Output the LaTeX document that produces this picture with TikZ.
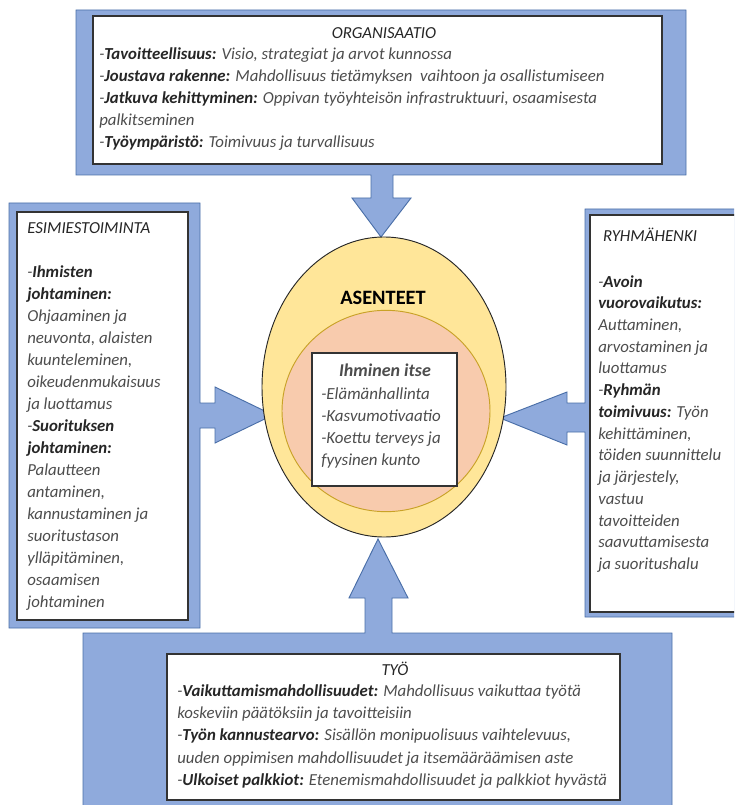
\documentclass[tikz,border=0pt]{standalone}
\usepackage{fontspec}
\setmainfont{Carlito}
\usepackage{tikz}
\usetikzlibrary{shapes.geometric, positioning, calc}

\definecolor{calloutblue}{HTML}{8FAADC}
\definecolor{calloutedge}{HTML}{4A6FA8}
\definecolor{asyellow}{HTML}{FFE699}
\definecolor{inpeach}{HTML}{F8CBAD}
\definecolor{ingold}{HTML}{C9A227}
\definecolor{txtgray}{HTML}{4D4D4D}
\definecolor{ttlgray}{HTML}{262626}

\begin{document}
\begin{tikzpicture}[
    x=0.75pt, y=-0.75pt,
    callout/.style={fill=calloutblue, draw=calloutedge, line width=0.7pt, line join=miter},
    txtbox/.style={draw=black!80, fill=white, line width=1.1pt, inner sep=0pt},
    body/.style={font=\fontsize{12.6}{16.5}\selectfont\itshape, text=txtgray, align=left, anchor=north west, inner sep=0pt},
    ttl/.style={font=\fontsize{12.6}{16.5}\selectfont\itshape, text=ttlgray, inner sep=0pt},
]
\clip (0,0) rectangle (734,805);

% callouts
\draw[callout] (76,10) -- (686,10) -- (686,175) -- (393,175) -- (393,198) -- (411,198)
    -- (381,237) -- (352,198) -- (371,198) -- (371,175) -- (76,175) -- cycle;
\draw[callout] (9,203) -- (200,203) -- (200,403) -- (215,403) -- (215,387) -- (273,415)
    -- (215,443) -- (215,428) -- (200,428) -- (200,628) -- (9,628) -- cycle;
\draw[callout] (585,209) -- (745,209) -- (745,617) -- (585,617) -- (585,432) -- (567,432)
    -- (567,445) -- (500,418) -- (567,392) -- (567,403) -- (585,403) -- cycle;
\draw[callout] (83,633) -- (365,633) -- (365,598) -- (349,598) -- (378,539) -- (408,598)
    -- (392,598) -- (392,633) -- (672,633) -- (672,815) -- (83,815) -- cycle;

% centre
\node[ellipse, draw=black!85, fill=asyellow, line width=0.7pt, minimum width=183pt, minimum height=225pt, inner sep=0pt] (asenteet) at (384,387) {};
\node[ellipse, draw=ingold, fill=inpeach, line width=0.7pt, minimum width=156pt, minimum height=151pt, inner sep=0pt] (itse) at (386,411) {};
\node[font=\fontsize{15.3}{18}\selectfont\bfseries, text=black] (astxt) at (383,298) {ASENTEET};
\node[txtbox, minimum width=108.75pt, minimum height=99.75pt] (itsebox) at (384.5,419.5) {};
\node[font=\fontsize{13.5}{16}\selectfont\bfseries\itshape, text=txtgray] (itsettl) at (385,370) {Ihminen itse};
\node[body, font=\fontsize{12.7}{16.5}\selectfont\itshape] (itsetxt) at (321,387) {-Elämänhallinta\\-Kasvumotivaatio\\-Koettu terveys ja\\fyysinen kunto};

% organisaatio
\node[txtbox, minimum width=426.75pt, minimum height=111pt] (orgbox) at (377.5,90) {};
\node[ttl] (orgttl) at (384,33) {ORGANISAATIO};
\node[body] (orgtxt) at (99,47) {-\textbf{\color{ttlgray}Tavoitteellisuus:} Visio, strategiat ja arvot kunnossa\\
-\textbf{\color{ttlgray}Joustava rakenne:} Mahdollisuus tietämyksen\ \ vaihtoon ja osallistumiseen\\
-\textbf{\color{ttlgray}Jatkuva kehittyminen:} Oppivan työyhteisön infrastruktuuri, osaamisesta\\
palkitseminen\\
-\textbf{\color{ttlgray}Työympäristö:} Toimivuus ja turvallisuus};

% esimiestoiminta
\node[txtbox, minimum width=128.25pt, minimum height=306pt] (esbox) at (102.5,416) {};
\node[body] (estxt) at (27,222) {{\color{ttlgray}ESIMIESTOIMINTA}\\
\mbox{}\\
-\textbf{\color{ttlgray}Ihmisten}\\
\textbf{\color{ttlgray}johtaminen:}\\
Ohjaaminen ja\\
neuvonta, alaisten\\
kuunteleminen,\\
oikeudenmukaisuus\\
ja luottamus\\
-\textbf{\color{ttlgray}Suorituksen}\\
\textbf{\color{ttlgray}johtaminen:}\\
Palautteen\\
antaminen,\\
kannustaminen ja\\
suoritustason\\
ylläpitäminen,\\
osaamisen\\
johtaminen};

% ryhmähenki
\node[txtbox, minimum width=127.5pt, minimum height=297.75pt] (ryhbox) at (675,413.5) {};
\node[ttl] (ryhttl) at (650,235) {RYHMÄHENKI};
\node[body, font=\fontsize{12.6}{16.3}\selectfont\itshape] (ryhtxt) at (598,275) {-\textbf{\color{ttlgray}Avoin}\\
\textbf{\color{ttlgray}vuorovaikutus:}\\
Auttaminen,\\
arvostaminen ja\\
luottamus\\
-\textbf{\color{ttlgray}Ryhmän}\\
\textbf{\color{ttlgray}toimivuus:} Työn\\
kehittäminen,\\
töiden suunnittelu\\
ja järjestely,\\
vastuu\\
tavoitteiden\\
saavuttamisesta\\
ja suoritushalu};

% työ
\node[txtbox, minimum width=339.75pt, minimum height=109.5pt] (tyobox) at (393.5,727) {};
\node[ttl] (tyottl) at (395,669) {TYÖ};
\node[body, font=\fontsize{12.6}{16.8}\selectfont\itshape] (tyotxt) at (177,684) {-\textbf{\color{ttlgray}Vaikuttamismahdollisuudet:} Mahdollisuus vaikuttaa työtä\\
koskeviin päätöksiin ja tavoitteisiin\\
-\textbf{\color{ttlgray}Työn kannustearvo:} Sisällön monipuolisuus vaihtelevuus,\\
uuden oppimisen mahdollisuudet ja itsemääräämisen aste\\
-\textbf{\color{ttlgray}Ulkoiset palkkiot:} Etenemismahdollisuudet ja palkkiot hyvästä};

\end{tikzpicture}
\end{document}
